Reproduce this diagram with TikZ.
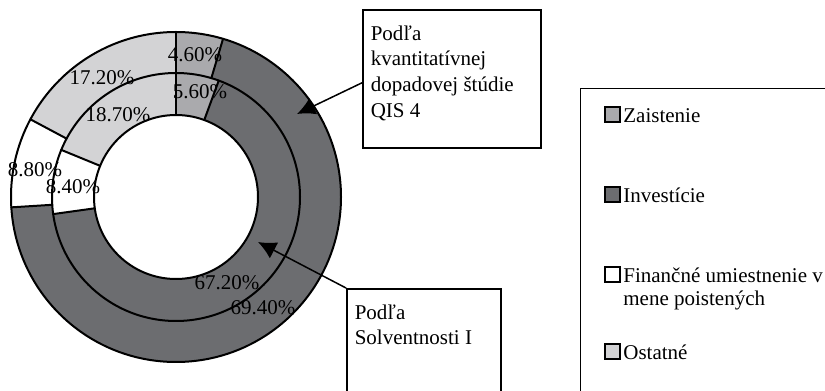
\documentclass[tikz,border=0pt]{standalone}
\usepackage{fontspec}
\setmainfont{Liberation Serif}
\usetikzlibrary{arrows.meta}
\definecolor{zaistenie}{RGB}{170,170,173}
\definecolor{investicie}{RGB}{108,109,112}
\definecolor{ostatne}{RGB}{211,211,213}

\begin{document}
\begin{tikzpicture}[x=0.5pt,y=0.5pt,line cap=round,>={Latex[length=9pt,width=9pt]},
    font=\fontsize{10.5pt}{12.8pt}\selectfont,
    ring/.style={line width=1pt},
    pct/.style={inner sep=0pt},
    callout/.style={draw,line width=0.8pt,anchor=north west,inner xsep=4pt,inner ysep=8pt},
    swatch/.style={draw,line width=0.9pt,minimum size=7.5pt,inner sep=0pt,anchor=south west}]
  \useasboundingbox (0,0) rectangle (825,391);
% radii of the two rings
  \def\Rin{82}
  \def\Rmid{124}
  \def\Rout{165}
  \coordinate (center) at (176,194);
  \begin{scope}[shift={(center)}]
  % outer ring: QIS 4
    \foreach \a/\b/\col in {90/73.44/zaistenie,73.44/-176.4/investicie,-176.4/-208.08/white,-208.08/-270/ostatne}
      \fill[\col] (\a:\Rmid) arc (\a:\b:\Rmid) -- (\b:\Rout) arc (\b:\a:\Rout) -- cycle;
  % inner ring: Solventnost I
    \foreach \a/\b/\col in {90/69.84/zaistenie,69.84/-172.08/investicie,-172.08/-202.32/white,-202.32/-270/ostatne}
      \fill[\col] (\a:\Rin) arc (\a:\b:\Rin) -- (\b:\Rmid) arc (\b:\a:\Rmid) -- cycle;
    \draw[ring] (0,0) circle (\Rin) (0,0) circle (\Rmid) (0,0) circle (\Rout);
    \draw[ring] (90:\Rin) -- (90:\Rout);
    \foreach \a in {73.44,-176.4,-208.08}
      \draw[ring] (\a:\Rmid) -- (\a:\Rout);
    \foreach \a in {69.84,-172.08,-202.32}
      \draw[ring] (\a:\Rin) -- (\a:\Rmid);
  \end{scope}
% percentages
  \node[pct] (qzai) at (195,336) {4.60\%};
  \node[pct] (szai) at (200,299) {5.60\%};
  \node[pct] (qost) at (102,313) {17.20\%};
  \node[pct] (sost) at (118,276) {18.70\%};
  \node[pct] (qfin) at (35,221) {8.80\%};
  \node[pct] (sfin) at (73,204) {8.40\%};
  \node[pct] (sinv) at (227,108) {67.20\%};
  \node[pct] (qinv) at (263,83) {69.40\%};
% callouts
  \node[callout] (qis) at (362,382)
    {\parbox[t][53pt][t]{81pt}{Podľa\\kvantitatívnej\\dopadovej štúdie\\QIS 4}};
  \node[callout] (solv) at (346,103)
    {\parbox[t][60pt][t]{69pt}{Podľa\\Solventnosti I}};
  \coordinate (qtip) at (297,277);
  \coordinate (stip) at (258,149);
  \draw[->,line width=0.75pt] ([yshift=-2pt]qis.west) -- (qtip);
  \draw[->,line width=0.75pt] (solv.north west) -- (stip);
% legend
  \node[draw,line width=0.6pt,anchor=north west,minimum width=140pt,minimum height=170pt] (legend) at (580,303) {};
  \foreach \col/\yy/\txt [count=\i] in {zaistenie/268/Zaistenie,investicie/188/Investície,
      white/108/{Finančné umiestnenie v\\mene poistených},ostatne/31/Ostatné} {
    \node[swatch,fill=\col] (sw\i) at (604,\yy) {};
    \node[anchor=base west,inner sep=0pt] (lg\i) at (623,\yy)
      {\parbox[t]{120pt}{\fontsize{10.5pt}{11.4pt}\selectfont\txt}};
  }
\end{tikzpicture}
\end{document}
